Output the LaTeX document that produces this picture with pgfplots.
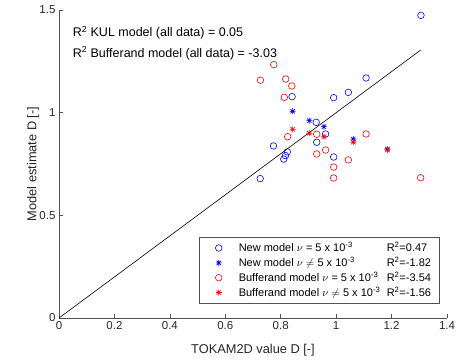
\documentclass[border=0pt]{standalone}
\usepackage{pgfplots}
\pgfplotsset{compat=1.18}
\usepackage{fontspec}
\setmainfont{Liberation Sans}
\definecolor{axgray}{rgb}{0.15,0.15,0.15}
\pgfdeclareplotmark{mstar}{%
  \pgfpathmoveto{\pgfqpoint{-\pgfplotmarksize}{0pt}}\pgfpathlineto{\pgfqpoint{\pgfplotmarksize}{0pt}}%
  \pgfpathmoveto{\pgfqpoint{0pt}{-\pgfplotmarksize}}\pgfpathlineto{\pgfqpoint{0pt}{\pgfplotmarksize}}%
  \pgfpathmoveto{\pgfqpoint{-0.707\pgfplotmarksize}{-0.707\pgfplotmarksize}}\pgfpathlineto{\pgfqpoint{0.707\pgfplotmarksize}{0.707\pgfplotmarksize}}%
  \pgfpathmoveto{\pgfqpoint{-0.707\pgfplotmarksize}{0.707\pgfplotmarksize}}\pgfpathlineto{\pgfqpoint{0.707\pgfplotmarksize}{-0.707\pgfplotmarksize}}%
  \pgfusepathqstroke}
\begin{document}
\begin{tikzpicture}
\begin{axis}[
  scale only axis, width=388pt, height=308pt,
  xmin=0, xmax=1.4, ymin=0, ymax=1.5,
  axis lines=left, axis line style={-, draw=axgray!80, line width=0.5pt},
  tick align=inside, major tick length=4pt,
  tick style={axgray!80, line width=0.5pt},
  xtick={0,0.2,0.4,0.6,0.8,1,1.2,1.4},
  ytick={0,0.5,1,1.5},
  /pgf/number format/assume math mode=true,
  /pgf/number format/fixed,
  ticklabel style={font=\fontsize{11.5}{13}\selectfont, text=axgray},
  xlabel={TOKAM2D value D [-]},
  ylabel={Model estimate D [-]},
  xlabel style={at={(axis description cs:0.5,-0.104)}, anchor=center, font=\fontsize{12.8}{14}\selectfont, text=axgray},
  ylabel style={at={(axis description cs:-0.067,0.5)}, anchor=center, font=\fontsize{12.8}{14}\selectfont, text=axgray},
  clip=false,
  legend style={at={(rel axis cs:0.98,0.048)}, anchor=south east, draw=axgray!80, line width=0.5pt,
    font=\fontsize{11}{13}\selectfont, row sep=0pt, inner xsep=6pt, inner ysep=3pt},
  legend cell align=left,
  legend image code/.code={\draw[draw=none] (0pt,0pt) -- (32pt,0pt); \draw plot coordinates {(14pt,0pt)};},
]
\addplot[black, line width=0.6pt, forget plot] coordinates {(0,0) (1.305,1.305)};
\addplot[only marks, mark=o, mark size=3.3pt, blue, line width=0.6pt] coordinates {
(1.306,1.474) (1.108,1.169) (1.044,1.099) (0.991,1.073) (0.841,1.078)
(0.928,0.953) (0.962,0.896) (0.930,0.856) (0.774,0.838) (0.824,0.809)
(0.817,0.791) (0.811,0.774) (0.991,0.784) (0.726,0.679)};
\addlegendentry{\makebox[148pt][l]{New model $\nu$ = 5 x 10\textsuperscript{-3}}R\textsuperscript{2}=0.47}
\addplot[only marks, mark=mstar, mark size=3pt, blue, line width=0.6pt] coordinates {
(0.843,1.007) (0.903,0.961) (0.956,0.932) (1.062,0.872) (1.185,0.823)};
\addlegendentry{\makebox[148pt][l]{New model $\nu\neq$ 5 x 10\textsuperscript{-3}}R\textsuperscript{2}=-1.82}
\addplot[only marks, mark=o, mark size=3.3pt, red, line width=0.6pt] coordinates {
(0.775,1.234) (0.727,1.158) (0.818,1.164) (0.840,1.130) (0.813,1.075)
(0.825,0.883) (0.930,0.895) (0.930,0.799) (0.962,0.818) (0.991,0.735)
(0.991,0.682) (1.044,0.770) (1.108,0.896) (1.305,0.683)};
\addlegendentry{\makebox[148pt][l]{Bufferand model $\nu$ = 5 x 10\textsuperscript{-3}}R\textsuperscript{2}=-3.54}
\addplot[only marks, mark=mstar, mark size=3pt, red, line width=0.6pt] coordinates {
(0.843,0.919) (0.903,0.900) (0.956,0.883) (1.062,0.856) (1.185,0.818)};
\addlegendentry{\makebox[148pt][l]{Bufferand model $\nu\neq$ 5 x 10\textsuperscript{-3}}R\textsuperscript{2}=-1.56}
\node[anchor=west, inner sep=0pt, font=\fontsize{12.5}{14}\selectfont, text=black] at (axis cs:0.049,1.390) {R\textsuperscript{2} KUL model (all data) = 0.05};
\node[anchor=west, inner sep=0pt, font=\fontsize{12.5}{14}\selectfont, text=black] at (axis cs:0.049,1.289) {R\textsuperscript{2} Bufferand model (all data) = -3.03};
\coordinate (O) at (rel axis cs:0,0);
\end{axis}
\pgfresetboundingbox
\path (O) ++(-59pt,-42pt) rectangle ++(460pt,360pt);
\end{tikzpicture}
\end{document}
